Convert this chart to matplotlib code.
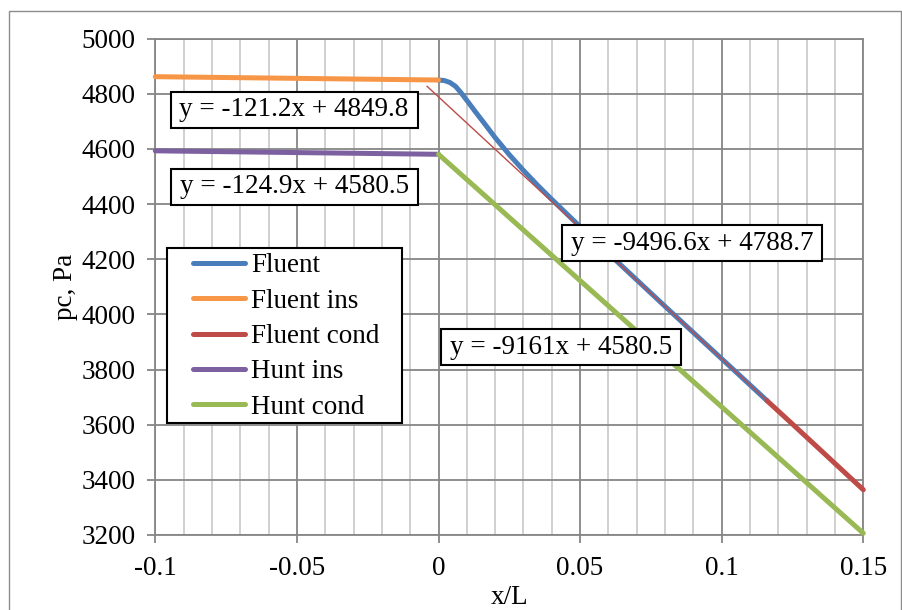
import matplotlib
matplotlib.use("Agg")
import matplotlib.pyplot as plt
import numpy as np
from matplotlib.path import Path
from matplotlib.patches import Rectangle
from matplotlib.ticker import MultipleLocator, FixedLocator

# ---------------- data ----------------
fluent_x = [0.000, 0.002, 0.004, 0.006, 0.008, 0.010, 0.013, 0.016, 0.020, 0.025,
            0.030, 0.035, 0.040, 0.050, 0.060, 0.070, 0.080, 0.090, 0.100, 0.110, 0.116]
fluent_y = [4849.8, 4848, 4841, 4827, 4803, 4776, 4735, 4695, 4641, 4579,
            4522, 4468, 4417, 4318, 4221, 4125, 4029, 3934, 3839, 3744, 3687]

fluent_ins_x = [-0.1, 0.0]
fluent_ins_y = [4861.9, 4849.8]

fluent_cond_x = [0.116, 0.125, 0.135, 0.150]
fluent_cond_y = [3687, 3602, 3507, 3364]

hunt_ins_x = [-0.1, 0.0]
hunt_ins_y = [4593.0, 4580.5]

hunt_cond_x = [0.0, 0.15]
hunt_cond_y = [4580.5, 3206.4]

# trendline of "Fluent cond" (slope, intercept) and its drawn x-range
trend_coef = [-9496.6, 4788.7]
trend_range = [-0.004, 0.15]

series_names = ["Fluent", "Fluent ins", "Fluent cond", "Hunt ins", "Hunt cond"]
series_colors = ["#4A7EBB", "#F79646", "#BE4B48", "#7D60A0", "#98B954"]

equations = ["y = -121.2x + 4849.8", "y = -124.9x + 4580.5",
             "y = -9496.6x + 4788.7", "y = -9161x + 4580.5"]

x_ticks = [-0.1, -0.05, 0, 0.05, 0.1, 0.15]
x_tick_labels = ["-0.1", "-0.05", "0", "0.05", "0.1", "0.15"]
y_ticks = [3200, 3400, 3600, 3800, 4000, 4200, 4400, 4600, 4800, 5000]

# ---------------- style ----------------
plt.rcParams['font.family'] = ['Liberation Serif', 'DejaVu Serif']
plt.rcParams['axes.unicode_minus'] = False
FS = 19.5
GRID_MAJ = "#868686"
GRID_MIN = "#C3C3C3"

W, H = 903, 610
fig = plt.figure(figsize=(W / 100, H / 100), dpi=100)
fig.patch.set_facecolor("white")

ax_l, ax_r, ax_t, ax_b = 155.3, 863.3, 38.6, 535.0
ax = fig.add_axes([ax_l / W, 1 - ax_b / H, (ax_r - ax_l) / W, (ax_b - ax_t) / H])

# outer chart border
fig.patches.append(Rectangle((8.5 / W, -0.01), (901 - 8.5) / W, 1.01 - 10.5 / H,
                             transform=fig.transFigure, fill=False,
                             edgecolor="#8C8C8C", lw=1.0, zorder=0))

LW = 3.6
lines_data = [(fluent_x, fluent_y), (fluent_ins_x, fluent_ins_y), (fluent_cond_x, fluent_cond_y),
              (hunt_ins_x, hunt_ins_y), (hunt_cond_x, hunt_cond_y)]
handles = []
for (xs, ys), name, col in zip(lines_data, series_names, series_colors):
    h, = ax.plot(xs, ys, color=col, lw=LW, solid_capstyle="round",
                 solid_joinstyle="round", label=name, zorder=3, clip_on=False)
    handles.append(h)

# trendline for Fluent cond
tx = np.array(trend_range)
ax.plot(tx, trend_coef[0] * tx + trend_coef[1], color=series_colors[2], lw=1.0, zorder=4)

ax.set_xlim(-0.1, 0.15)
ax.set_ylim(3200, 5000)
ax.xaxis.set_major_locator(FixedLocator(x_ticks))
ax.set_xticklabels(x_tick_labels)
ax.xaxis.set_minor_locator(MultipleLocator(0.01))
ax.set_yticks(y_ticks)
ax.set_yticklabels([str(v) for v in y_ticks])

ax.grid(True, which="minor", axis="x", color=GRID_MIN, lw=1.1, zorder=1)
ax.grid(True, which="major", axis="both", color=GRID_MAJ, lw=1.3, zorder=1)
ax.set_axisbelow(True)
for s in ax.spines.values():
    s.set_color(GRID_MAJ)
    s.set_linewidth(1.3)

ax.tick_params(which="major", direction="out", length=6, width=1.3, color=GRID_MAJ,
               labelsize=FS, pad=8)
ax.tick_params(axis="x", which="major", pad=9)
ax.tick_params(which="minor", length=0)

ax.set_xlabel("x/L", fontsize=FS, labelpad=3)
ax.set_ylabel("pc, Pa", fontsize=FS, labelpad=3)


# equation boxes with separate horizontal / vertical padding
def make_box(padx, pady):
    def box(x0, y0, width, height, mutation_size):
        px = padx * mutation_size
        py = pady * mutation_size
        x0, y0 = x0 - px, y0 - py
        x1, y1 = x0 + width + 2 * px, y0 + height + 2 * py
        return Path([(x0, y0), (x1, y0), (x1, y1), (x0, y1), (x0, y0)],
                    [Path.MOVETO, Path.LINETO, Path.LINETO, Path.LINETO, Path.CLOSEPOLY])
    return box


eq_pos = [(0.196, 0.857), (0.196, 0.7017), (0.758, 0.5876), (0.5734, 0.3787)]
for txt, (px, py) in zip(equations, eq_pos):
    ax.text(px, py, txt, transform=ax.transAxes, ha="center", va="center", fontsize=FS,
            zorder=6,
            bbox=dict(boxstyle=make_box(0.33, 0.2), facecolor="white",
                      edgecolor="black", lw=1.5))

# legend frame and legend
frame = Rectangle((166.7 / W, 1 - 422.7 / H), (401.7 - 166.7) / W,
                  (422.7 - 248.3) / H, transform=fig.transFigure,
                  facecolor="white", edgecolor="black", lw=1.5, zorder=5.5, clip_on=False)
ax.add_artist(frame)
leg = ax.legend(handles=handles, loc="upper left",
                bbox_to_anchor=(192.7 / W, 1 - 253.5 / H), bbox_transform=fig.transFigure,
                frameon=False, fontsize=FS, borderpad=0, borderaxespad=0,
                handlelength=1.93, handletextpad=0.22, labelspacing=0.38)
leg.set_zorder(7)

fig.savefig("out.png", dpi=100)
